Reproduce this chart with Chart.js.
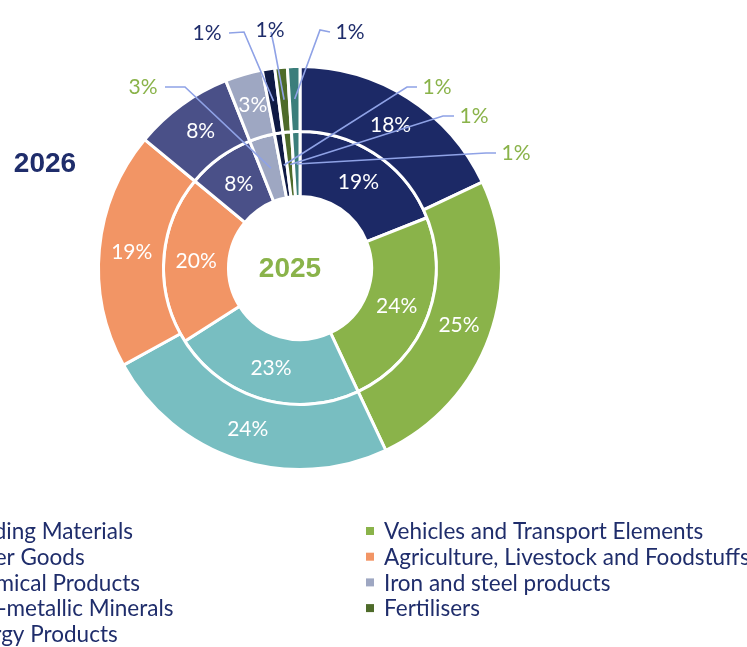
<!DOCTYPE html>
<html>
<head>
<meta charset="utf-8">
<script src="https://cdn.jsdelivr.net/npm/chart.js@4.4.0/dist/chart.umd.min.js"></script>
<style>
  html, body { margin: 0; padding: 0; background: #fff; overflow: hidden; }
  #wrap { position: relative; width: 747px; height: 647px; }
</style>
</head>
<body>
<div id="wrap"><canvas id="myDonut" width="747" height="647"></canvas></div>
<script>
const categories = ['Building Materials', 'Vehicles and Transport Elements', 'Other Goods',
  'Agriculture, Livestock and Foodstuffs', 'Chemical Products', 'Iron and steel products',
  'Non-metallic Minerals', 'Fertilisers', 'Energy Products'];
const values2026 = [18, 25, 24, 19, 8, 3, 1, 1, 1];
const values2025 = [19, 24, 23, 20, 8, 3, 1, 1, 1];
const colors = ['#1c2966', '#8ab34a', '#78bec1', '#f29565', '#4a5088', '#9ea7c2', '#0f1a45', '#4e6b2a', '#3b7e7b'];

const navy = '#1f2d6b';
const green = '#8ab34a';
const leader = '#8fa2e6';

// callout labels for thin slices: [dataset][index] -> label pos / elbow, relative to centre
const callouts = {
  0: { 6: { lx: -93, ly: -235, ex: -56, ey: -236, anchor: 'right' },
       7: { lx: -30, ly: -238, ex: -26, ey: -222, anchor: 'none' },
       8: { lx: 50, ly: -236, ex: 20, ey: -238, anchor: 'left' } },
  1: { 5: { lx: -157, ly: -181, ex: -115, ey: -181, anchor: 'right' },
       6: { lx: 137, ly: -181, ex: 107, ey: -181, anchor: 'left' },
       7: { lx: 174, ly: -152, ex: 143, ey: -152, anchor: 'left' },
       8: { lx: 216, ly: -115, ex: 186, ey: -115, anchor: 'left' } }
};

const labelPlugin = {
  id: 'labels',
  afterDatasetsDraw(chart) {
    const ctx = chart.ctx;
    ctx.save();
    ctx.font = '21px Lato, "Open Sans", sans-serif';
    ctx.textAlign = 'center';
    ctx.textBaseline = 'middle';
    chart.data.datasets.forEach((ds, di) => {
      const meta = chart.getDatasetMeta(di);
      meta.data.forEach((arc, i) => {
        const p = arc.getProps(['x', 'y', 'startAngle', 'endAngle', 'innerRadius', 'outerRadius'], true);
        const mid = (p.startAngle + p.endAngle) / 2;
        const r = (p.innerRadius + p.outerRadius) / 2;
        const px = p.x + Math.cos(mid) * r;
        const py = p.y + Math.sin(mid) * r;
        const txt = ds.data[i] + '%';
        const c = callouts[di] && callouts[di][i];
        if (c) {
          ctx.strokeStyle = leader;
          ctx.lineWidth = 1.6;
          ctx.beginPath();
          ctx.moveTo(px, py);
          ctx.lineTo(p.x + c.ex, p.y + c.ey);
          if (c.anchor === 'right') ctx.lineTo(p.x + c.lx + 22, p.y + c.ly);
          if (c.anchor === 'left') ctx.lineTo(p.x + c.lx - 20, p.y + c.ly);
          if (c.anchor === 'none') ctx.lineTo(p.x + c.ex - 3, p.y + c.ey - 14);
          ctx.stroke();
          ctx.fillStyle = di === 0 ? navy : green;
          ctx.fillText(txt, p.x + c.lx, p.y + c.ly);
        } else {
          ctx.fillStyle = '#ffffff';
          ctx.fillText(txt, px, py);
        }
      });
    });

    // centre / side titles
    const m = chart.getDatasetMeta(0).data[0];
    ctx.font = 'bold 28px "Liberation Sans", Arial, sans-serif';
    ctx.fillStyle = green;
    ctx.fillText('2025', m.x - 10, m.y + 1);
    ctx.fillStyle = navy;
    ctx.fillText('2026', 45, 164);

    // legend, two columns, row-wise order
    ctx.font = '22.5px Lato, "Open Sans", sans-serif';
    ctx.textAlign = 'left';
    const leftX = 133 - ctx.measureText(categories[0]).width;
    categories.forEach((name, i) => {
      const col = i % 2;
      const row = Math.floor(i / 2);
      const tx = col === 0 ? leftX : 384;
      const ty = 531 + row * 25.7;
      ctx.fillStyle = colors[i];
      ctx.fillRect(tx - 18, ty - 4, 8, 8);
      ctx.fillStyle = navy;
      ctx.fillText(name, tx, ty + 1);
    });
    ctx.restore();
  }
};

const ctx = document.getElementById('myDonut').getContext('2d');
const myChart = new Chart(ctx, {
  type: 'doughnut',
  data: {
    labels: categories,
    datasets: [{
      label: '2026',
      data: values2026,
      backgroundColor: colors,
      borderColor: '#ffffff',
      borderWidth: 3
    }, {
      label: '2025',
      data: values2025,
      backgroundColor: colors,
      borderColor: '#ffffff',
      borderWidth: 3
    }]
  },
  options: {
    responsive: false,
    animation: false,
    cutout: '35.5%',
    layout: { padding: { left: 97, right: 244, top: 65, bottom: 176 } },
    plugins: { legend: { display: false }, tooltip: { enabled: false } }
  },
  plugins: [labelPlugin]
});
</script>
</body>
</html>
